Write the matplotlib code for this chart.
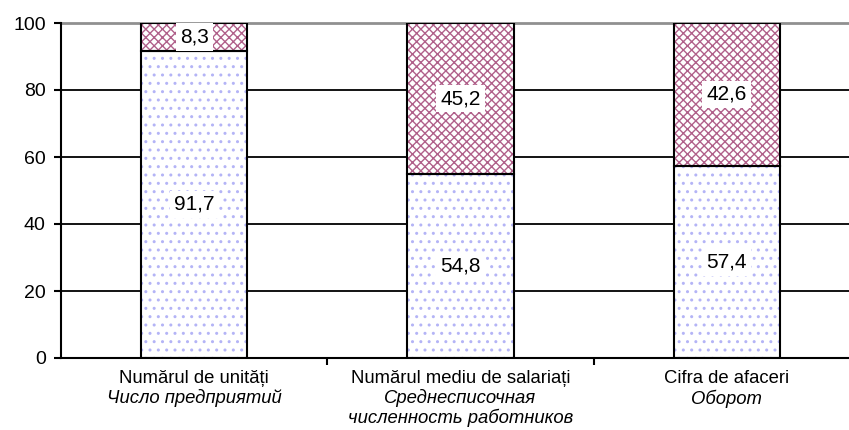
import matplotlib.pyplot as plt
from matplotlib.transforms import blended_transform_factory

plt.rcParams['font.family'] = ['Liberation Sans', 'DejaVu Sans']

categories_ro = ['Numărul de unități', 'Numărul mediu de salariați', 'Cifra de afaceri']
categories_ru = ['Число предприятий', 'Среднесписочная\nчисленность работников', 'Оборот']
lower = [91.7, 54.8, 57.4]
upper = [8.3, 45.2, 42.6]
lower_labels = ['91,7', '54,8', '57,4']
upper_labels = ['8,3', '45,2', '42,6']
yticks = [0, 20, 40, 60, 80, 100]

fig = plt.figure(figsize=(8.49, 4.30), dpi=100)
ax = fig.add_axes([61 / 849, 72 / 430, 1 - 61 / 849, (358 - 23) / 430])

x = list(range(len(categories_ro)))
w = 0.4

# hatch colour comes from edgecolor, so draw fill and outline separately
ax.bar(x, lower, w, color='white', edgecolor='#b4b4f6', hatch='..', linewidth=0, zorder=2)
ax.bar(x, upper, w, bottom=lower, color='white', edgecolor='#b0608a', hatch='xxxx',
       linewidth=0, zorder=2)
ax.bar(x, lower, w, fill=False, edgecolor='black', linewidth=1.5, zorder=3)
ax.bar(x, upper, w, bottom=lower, fill=False, edgecolor='black', linewidth=1.5, zorder=3)

box = dict(facecolor='white', edgecolor='none', pad=3)
for i in x:
    ax.text(i, lower[i] / 2, lower_labels[i], ha='center', va='center', fontsize=15,
            bbox=box, zorder=4)
    ax.text(i, lower[i] + upper[i] / 2, upper_labels[i], ha='center', va='center',
            fontsize=15, bbox=box, zorder=4)

ax.set_ylim(0, 100)
ax.set_xlim(-0.5, 2 + (849 - 727) / 266)
ax.set_yticks(yticks)
ax.set_yticklabels([str(t) for t in yticks], fontsize=14)
ax.tick_params(axis='y', length=5, width=1.5, direction='out', pad=6)
ax.set_xticks([0.5, 1.5])
ax.set_xticklabels([])
ax.tick_params(axis='x', length=5, width=1.5, direction='out')

for t in yticks[1:-1]:
    ax.axhline(t, color='black', linewidth=1.3, zorder=1)
ax.axhline(100, color='#909090', linewidth=2, zorder=1, clip_on=False)

for s in ['top', 'right']:
    ax.spines[s].set_visible(False)
ax.spines['left'].set_linewidth(1.5)
ax.spines['bottom'].set_linewidth(1.5)

trans = blended_transform_factory(ax.transData, ax.transAxes)
for i in x:
    ax.text(i, -0.037, categories_ro[i], ha='center', va='top', fontsize=13.3, transform=trans)
    ax.text(i, -0.037 - 0.057, categories_ru[i], ha='center', va='top', fontsize=13.3,
            style='italic', transform=trans, linespacing=1.05)

fig.savefig('out.png', dpi=100)
